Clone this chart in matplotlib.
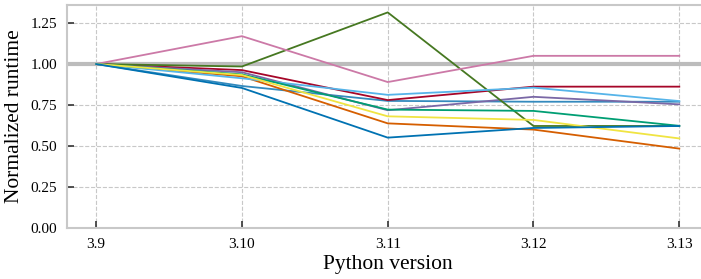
import numpy as np
import matplotlib.pyplot as plt

plt.rcParams['font.family'] = ['Liberation Serif', 'DejaVu Serif']

versions = ['3.9', '3.10', '3.11', '3.12', '3.13']

# normalized runtime per benchmark
steelblue = [1.0, 0.866, 0.775, 0.770, 0.770]
crimson = [1.0, 0.963, 0.780, 0.862, 0.862]
purple = [1.0, 0.950, 0.718, 0.800, 0.754]
olive = [1.0, 0.985, 1.315, 0.622, 0.622]
orange = [1.0, 0.925, 0.638, 0.600, 0.484]
pink = [1.0, 1.170, 0.890, 1.050, 1.050]
lightblue = [1.0, 0.913, 0.812, 0.856, 0.774]
green = [1.0, 0.937, 0.722, 0.714, 0.623]
yellow = [1.0, 0.933, 0.681, 0.659, 0.546]
blue = [1.0, 0.854, 0.551, 0.610, 0.622]

series = [steelblue, crimson, purple, olive, orange,
          pink, lightblue, green, yellow, blue]
colors = ['#348ABD', '#A60628', '#7A68A6', '#467821', '#D55E00',
          '#CC79A7', '#56B4E9', '#009E73', '#F0E442', '#0072B2']

fig = plt.figure(figsize=(7.01, 2.79), dpi=100)
ax = fig.add_axes([0.0956, 0.183, 0.915, 0.799])

x = np.arange(len(versions))
ax.axhline(1.0, color='#bcbcbc', lw=3, zorder=1)
for s, c in zip(series, colors):
    ax.plot(x, s, color=c, lw=1.3, zorder=2)

ax.set_xlim(-0.2, 4.2)
ax.set_ylim(0, 1.36)
ax.set_xticks(x)
ax.set_xticklabels(versions)
ax.set_yticks([0, 0.25, 0.5, 0.75, 1.0, 1.25])
ax.set_yticklabels(['0.00', '0.25', '0.50', '0.75', '1.00', '1.25'])

ax.grid(True, ls='--', color='#c8c8c8', lw=0.8, zorder=0)
ax.set_axisbelow(True)
for sp in ax.spines.values():
    sp.set_color('#c8c8c8')
    sp.set_linewidth(1.5)
ax.tick_params(direction='in', length=5, width=1.2, color='#333333',
               labelsize=11, pad=7)

ax.set_xlabel('Python version', fontsize=15.5, labelpad=3)
ax.set_ylabel('Normalized runtime', fontsize=15.5, labelpad=5)

plt.savefig('out.png', dpi=100)
